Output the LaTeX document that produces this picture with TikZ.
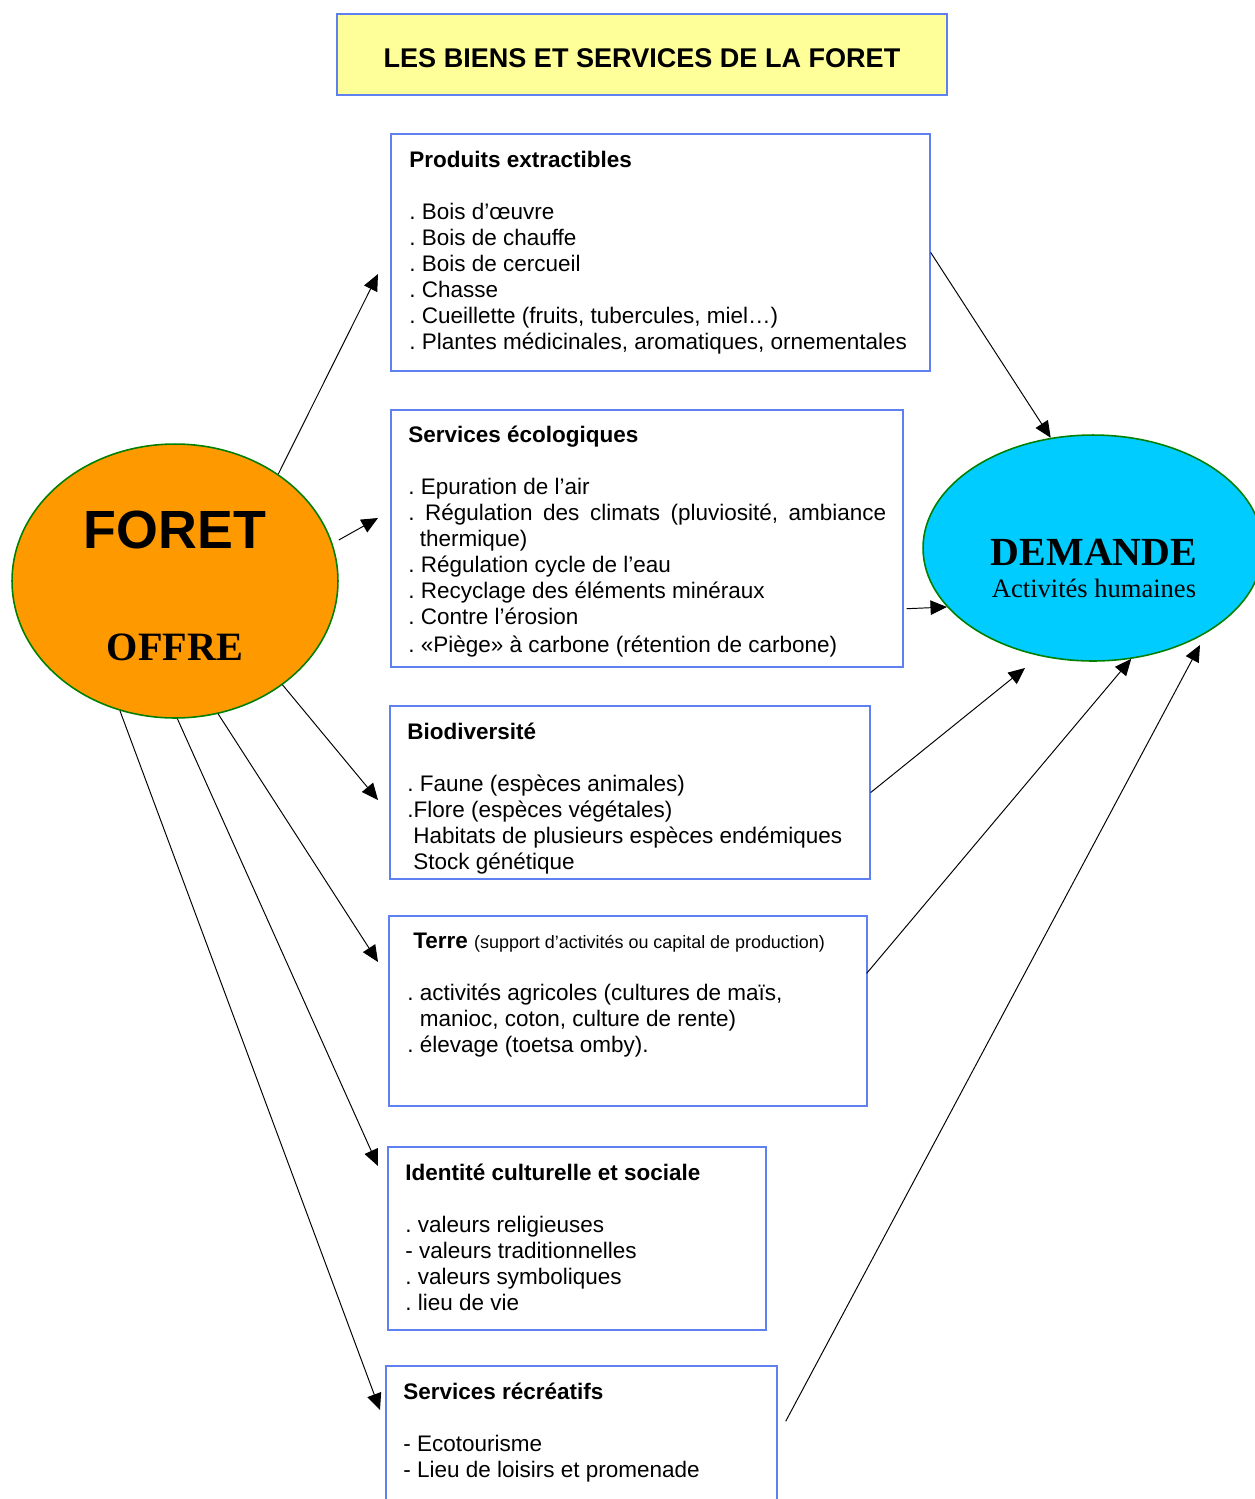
\documentclass[tikz,border=0pt]{standalone}
\usepackage{fontspec}
\setmainfont{Liberation Sans}
\newfontfamily\timesfnt{Liberation Serif}
\usetikzlibrary{shapes.geometric,arrows.meta,calc,fit}
\definecolor{boxblue}{RGB}{95,128,240}
\definecolor{titlefill}{RGB}{255,255,153}
\definecolor{forange}{RGB}{255,153,0}
\definecolor{dcyan}{RGB}{0,204,255}
\definecolor{egreen}{RGB}{0,128,0}
\newcommand{\fsz}[2]{\fontsize{#1}{#2}\selectfont}
\newcommand{\firstl}{\rule{0pt}{0.4cm}}
\frenchspacing
\begin{document}
\begin{tikzpicture}[x=0.02cm,y=-0.02cm,
  box/.style={draw=boxblue, line width=0.8pt, inner sep=0pt, fill=white},
  txt/.style={anchor=north west, inner sep=0pt, align=left, font=\fsz{12.8pt}{14.79pt}},
  conn/.style={line width=0.55pt, -{Triangle[length=0.33cm,width=0.29cm]}},
  ell/.style={ellipse, draw=egreen, line width=0.9pt, inner sep=0pt}]
\useasboundingbox (0,0) rectangle (1255,1499);

% title
\node[box, fill=titlefill, fit={(337,14) (947,95)}] (title) {};
\node[anchor=base, inner sep=0pt, font=\fsz{15.4pt}{18pt}\bfseries] (titletxt) at (642,67) {LES BIENS ET SERVICES DE LA FORET};

% ellipses
\node[ell, fill=forange, minimum width=6.52cm, minimum height=5.48cm] (foret) at (175,581) {};
\node[anchor=base, inner sep=0pt, font=\fsz{30.6pt}{34pt}\bfseries] (foretxt) at (175,548) {FORET};
\node[anchor=base, inner sep=0pt, font=\timesfnt\fsz{22.9pt}{26pt}\bfseries] (offre) at (175,660) {OFFRE};

\node[ell, fill=dcyan, minimum width=6.8cm, minimum height=4.52cm] (demande) at (1093,548) {};
\node[anchor=base, inner sep=0pt, font=\timesfnt\fsz{22.7pt}{26pt}\bfseries] (demtxt) at (1094,565) {DEMANDE};
\node[anchor=base, inner sep=0pt, font=\timesfnt\fsz{15.1pt}{18pt}] (acttxt) at (1094,597) {Activités humaines};

% boxes
\node[box, fit={(391,134) (930,371)}] (b1) {};
\node[txt] (t1) at (409,147) {\firstl\textbf{Produits extractibles}\\[0.52cm]
. Bois d’œuvre\\
. Bois de chauffe\\
. Bois de cercueil\\
. Chasse\\
. Cueillette (fruits, tubercules, miel…)\\
. Plantes médicinales, aromatiques, ornementales};

\node[box, fit={(391,410) (903,667)}] (b2) {};
\node[txt] (t2) at (408,422) {\firstl\textbf{Services écologiques}\\[0.52cm]
. Epuration de l’air\\
\makebox[9.56cm][s]{. Régulation des climats (pluviosité, ambiance}\\
\hspace*{0.23cm}thermique)\\
. Régulation cycle de l’eau\\
. Recyclage des éléments minéraux\\
. Contre l’érosion\\[0.04cm]
. «Piège» à carbone (rétention de carbone)};

\node[box, fit={(390,706) (870,879)}] (b3) {};
\node[txt] (t3) at (407,719) {\firstl\textbf{Biodiversité}\\[0.52cm]
. Faune (espèces animales)\\
.Flore (espèces végétales)\\
\hspace*{0.12cm}Habitats de plusieurs espèces endémiques\\
\hspace*{0.12cm}Stock génétique};

\node[box, fit={(389,916) (867,1106)}] (b4) {};
\node[txt] (t4) at (407,928) {\firstl\hspace*{0.12cm}\textbf{Terre} {\fsz{10.2pt}{12pt}(support d’activités ou capital de production)}\\[0.52cm]
. activités agricoles (cultures de maïs,\\
\phantom{. }manioc, coton, culture de rente)\\
. élevage (toetsa omby).};

\node[box, fit={(388,1147) (766,1330)}] (b5) {};
\node[txt] (t5) at (405,1160) {\firstl\textbf{Identité culturelle et sociale}\\[0.52cm]
. valeurs religieuses\\
- valeurs traditionnelles\\
. valeurs symboliques\\
. lieu de vie};

\node[box, fit={(386,1366) (777,1520)}] (b6) {};
\node[txt] (t6) at (403,1379) {\firstl\textbf{Services récréatifs}\\[0.52cm]
- Ecotourisme\\
- Lieu de loisirs et promenade};

% free ends
\coordinate (s2) at ($(foret.east)+(0,-41)$);
\coordinate (e1) at (378,274);
\coordinate (e2) at (378,518);
\coordinate (e3) at (378,800);
\coordinate (e4) at (378,962);
\coordinate (e5) at (378,1166);
\coordinate (e6) at (380,1410);
\coordinate (e9) at (1025,668);
\coordinate (e11) at (1200,645);
\coordinate (s6) at ($(b6.north east)+(8,56)$);

% connectors from FORET
\draw[conn] (foret.46.6) -- (e1);
\draw[conn] (s2) -- (e2);
\draw[conn] (foret.-44.5) -- (e3);
\draw[conn] (foret.-72.1) -- (e4);
\draw[conn] (foret.-89.6) -- (e5);
\draw[conn] (foret.-113.8) -- (e6);

% connectors to DEMANDE
\draw[conn] (b1.east) -- (demande.111.5);
\draw[conn] ($(b2.south east)+(3,-59)$) -- (demande.202.6);
\draw[conn] (b3.east) -- (e9);
\draw[conn] ($(b4.north east)+(-1,58)$) -- (demande.-71.4);
\draw[conn] (s6) -- (e11);
\end{tikzpicture}
\end{document}
